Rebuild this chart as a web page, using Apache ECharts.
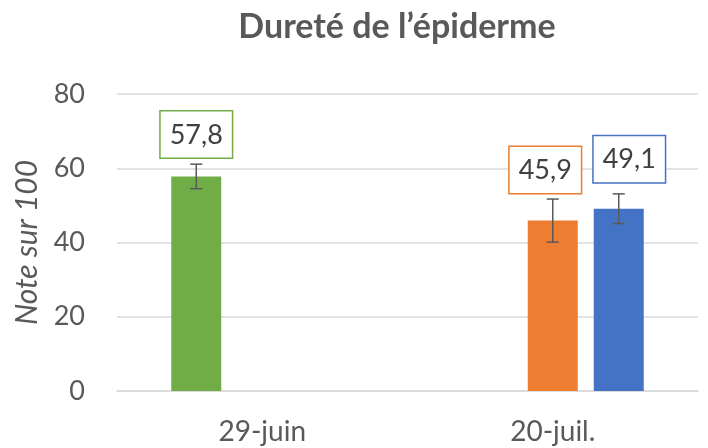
<!DOCTYPE html>
<html>
<head>
<meta charset="utf-8">
<script src="https://cdn.jsdelivr.net/npm/echarts@6/dist/echarts.min.js"></script>
<style>
  html, body { margin: 0; padding: 0; background: #fff; }
  #chart { width: 708px; height: 448px; }
</style>
</head>
<body>
<div id="chart"></div>
<script>
// données
const categories = ['29-juin', '20-juil.'];
const seriesNames = ['Série 1', 'Série 2', 'Série 3'];
const valGreen = [57.8, null];
const valOrange = [null, 45.9];
const valBlue = [null, 49.1];
const errGreen = [3.3, null];
const errOrange = [null, 5.8];
const errBlue = [null, 4.0];
const yTicks = { min: 0, max: 80, interval: 20 };

const colors = ['#70AD47', '#ED7D31', '#4472C4'];
const FONT = 'Lato, "Open Sans", sans-serif';
const BAR_W = 50;
const GAP = 16;
// position des étiquettes (déplacées à la main dans l'original)
const labelDist = [19, 27.5, 26.5];
const labelDx = [0, -7.5, 10.5];

const chart = echarts.init(document.getElementById('chart'));

const values = [valGreen, valOrange, valBlue];
const errors = [errGreen, errOrange, errBlue];

const barSeries = values.map(function (vals, s) {
  return {
    name: seriesNames[s],
    type: 'bar',
    barWidth: BAR_W,
    barGap: (GAP / BAR_W * 100) + '%',
    itemStyle: { color: colors[s] },
    label: {
      show: true,
      position: 'top',
      distance: labelDist[s],
      offset: [labelDx[s], 0],
      formatter: function (p) { return String(p.value).replace('.', ','); },
      fontFamily: FONT,
      fontSize: 27,
      color: '#404040',
      backgroundColor: '#fff',
      borderColor: colors[s],
      borderWidth: 1.5,
      padding: [8, 9, 7, 9],
      lineHeight: 31
    },
    z: 2,
    data: vals
  };
});

// barres d'erreur
const errData = [];
values.forEach(function (vals, s) {
  vals.forEach(function (v, i) {
    if (v != null) errData.push([i, v - errors[s][i], v + errors[s][i], s]);
  });
});

const errSeries = {
  type: 'custom',
  z: 5,
  renderItem: function (params, api) {
    const i = api.value(0);
    const s = api.value(3);
    const dx = (s - 1) * (BAR_W + GAP);
    const lo = api.coord([i, api.value(1)]);
    const hi = api.coord([i, api.value(2)]);
    const x = lo[0] + dx;
    const cap = 6;
    const st = { stroke: '#595959', lineWidth: 1.5 };
    return {
      type: 'group',
      children: [
        { type: 'line', shape: { x1: x, y1: lo[1], x2: x, y2: hi[1] }, style: st },
        { type: 'line', shape: { x1: x - cap, y1: lo[1], x2: x + cap, y2: lo[1] }, style: st },
        { type: 'line', shape: { x1: x - cap, y1: hi[1], x2: x + cap, y2: hi[1] }, style: st }
      ]
    };
  },
  encode: { x: 0, y: [1, 2] },
  data: errData
};

chart.setOption({
  backgroundColor: '#fff',
  animation: false,
  graphic: [{
    type: 'text',
    x: 397,
    y: 10,
    style: {
      text: 'Dureté de l\u2019épiderme',
      font: 'bold 34px ' + FONT,
      fill: '#595959',
      align: 'center'
    }
  }],
  grid: { left: 117, right: 10, top: 94, bottom: 57 },
  xAxis: {
    type: 'category',
    data: categories,
    axisLine: { lineStyle: { color: '#d9d9d9', width: 1.5 } },
    axisTick: { show: false },
    axisLabel: { fontFamily: FONT, fontSize: 28, color: '#595959', margin: 27 }
  },
  yAxis: {
    type: 'value',
    min: yTicks.min,
    max: yTicks.max,
    interval: yTicks.interval,
    name: 'Note sur 100',
    nameLocation: 'middle',
    nameGap: 75,
    nameTextStyle: { fontFamily: FONT, fontSize: 30, fontStyle: 'italic', color: '#595959' },
    axisLine: { show: false },
    axisTick: { show: false },
    axisLabel: { fontFamily: FONT, fontSize: 27, color: '#595959', margin: 32 },
    splitLine: { lineStyle: { color: '#d9d9d9', width: 1.5 } }
  },
  series: barSeries.concat([errSeries])
});
</script>
</body>
</html>
